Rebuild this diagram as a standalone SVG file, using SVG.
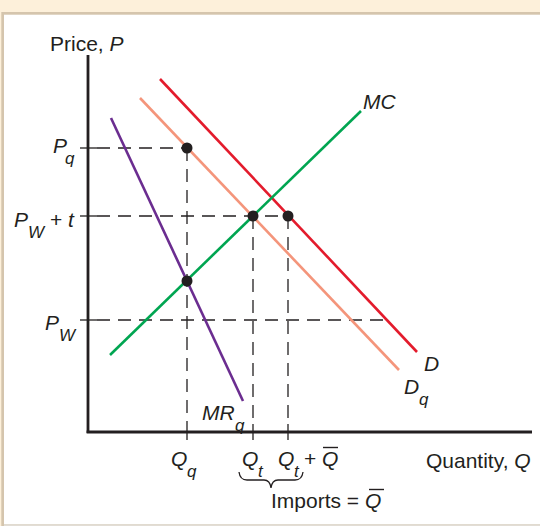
<svg xmlns="http://www.w3.org/2000/svg" width="540" height="526" viewBox="0 0 540 526">
<style>
text{font-family:"Liberation Sans",Arial,sans-serif;font-size:21px;fill:#231F20}
.i{font-style:italic}
.s{font-style:italic;font-size:17px}
.dash{stroke:#231F20;stroke-width:1.3;stroke-dasharray:13 8;fill:none}
.tick{stroke:#231F20;stroke-width:1.3;fill:none}
.axis{stroke:#231F20;stroke-width:2.8;fill:none}
.curve{stroke-width:2.6;fill:none}
.dot{fill:#231F20}
</style>
<rect x="0" y="0" width="540" height="526" fill="#FDF0DA"/>
<rect x="1.3" y="12" width="538.7" height="514" fill="#D5C5AD"/>
<rect x="4" y="14.7" width="536" height="509.6" fill="#FFFFFF"/>
<rect x="4" y="524.3" width="536" height="1.7" fill="#E2DDD5"/>

<g id="axes">
<line class="axis" x1="88" y1="55" x2="88" y2="433"/>
<line class="axis" x1="86.6" y1="432" x2="532" y2="432"/>
</g>

<g id="guides">
<line class="tick" x1="80" y1="148" x2="97" y2="148"/>
<line class="tick" x1="80" y1="216" x2="97" y2="216"/>
<line class="tick" x1="80" y1="320" x2="97" y2="320"/>
<line class="dash" x1="97" y1="148" x2="187" y2="148"/>
<line class="dash" x1="97" y1="216" x2="288" y2="216"/>
<line class="dash" x1="97" y1="320" x2="385" y2="320"/>
<line class="tick" x1="187" y1="424" x2="187" y2="440"/>
<line class="tick" x1="253" y1="424" x2="253" y2="440"/>
<line class="tick" x1="288" y1="424" x2="288" y2="440"/>
<line class="dash" x1="187" y1="148" x2="187" y2="424"/>
<line class="dash" x1="253" y1="216" x2="253" y2="424"/>
<line class="dash" x1="288" y1="216" x2="288" y2="424"/>
</g>

<g id="connectors">
<line id="D" class="curve" stroke="#E31B2C" x1="160" y1="79" x2="417" y2="352"/>
<line id="Dq" class="curve" stroke="#F4957B" x1="140" y1="98" x2="399" y2="370"/>
<line id="MC" class="curve" stroke="#00A551" x1="110" y1="355" x2="361" y2="111"/>
<line id="MRq" class="curve" stroke="#6B2D90" x1="111" y1="118" x2="243" y2="401"/>
</g>

<g id="points">
<circle class="dot" cx="187" cy="148" r="5.5"/>
<circle class="dot" cx="253" cy="216" r="5.5"/>
<circle class="dot" cx="288" cy="216" r="5.5"/>
<circle class="dot" cx="187" cy="281" r="5.5"/>
</g>

<g id="labels">
<text x="50" y="51">Price, <tspan class="i">P</tspan></text>
<text class="i" x="53" y="153">P<tspan class="s" x="65" y="164">q</tspan></text>
<text class="i" x="14" y="227">P<tspan class="s" x="28" y="238">W</tspan><tspan font-style="normal" x="50" y="227">+</tspan><tspan x="68" y="227">t</tspan></text>
<text class="i" x="45" y="330">P<tspan class="s" x="59" y="341">W</tspan></text>
<text class="i" x="363" y="109">MC</text>
<text class="i" x="424" y="371">D</text>
<text class="i" x="404" y="394">D<tspan class="s" x="419" y="405">q</tspan></text>
<text class="i" x="202" y="420">MR<tspan class="s" x="235" y="431">q</tspan></text>
<text class="i" x="171" y="466">Q<tspan class="s" x="187" y="477">q</tspan></text>
<text class="i" x="242" y="466">Q<tspan class="s" x="258" y="477">t</tspan></text>
<text class="i" x="278" y="466">Q<tspan class="s" x="294" y="477">t</tspan><tspan font-style="normal" x="304" y="466">+</tspan><tspan x="322" y="466">Q</tspan></text>
<line x1="323" y1="447.5" x2="338" y2="447.5" stroke="#231F20" stroke-width="1.4"/>
<text x="426" y="468">Quantity, <tspan class="i">Q</tspan></text>
<text x="271" y="508">Imports = <tspan class="i">Q</tspan></text>
<line x1="369" y1="489.5" x2="384" y2="489.5" stroke="#231F20" stroke-width="1.4"/>
<path class="tick" d="M239,472 Q240,480 247,480 L264,480 Q270,480 271,488 Q272,480 278,480 L295,480 Q302,480 303,472"/>
</g>
</svg>
